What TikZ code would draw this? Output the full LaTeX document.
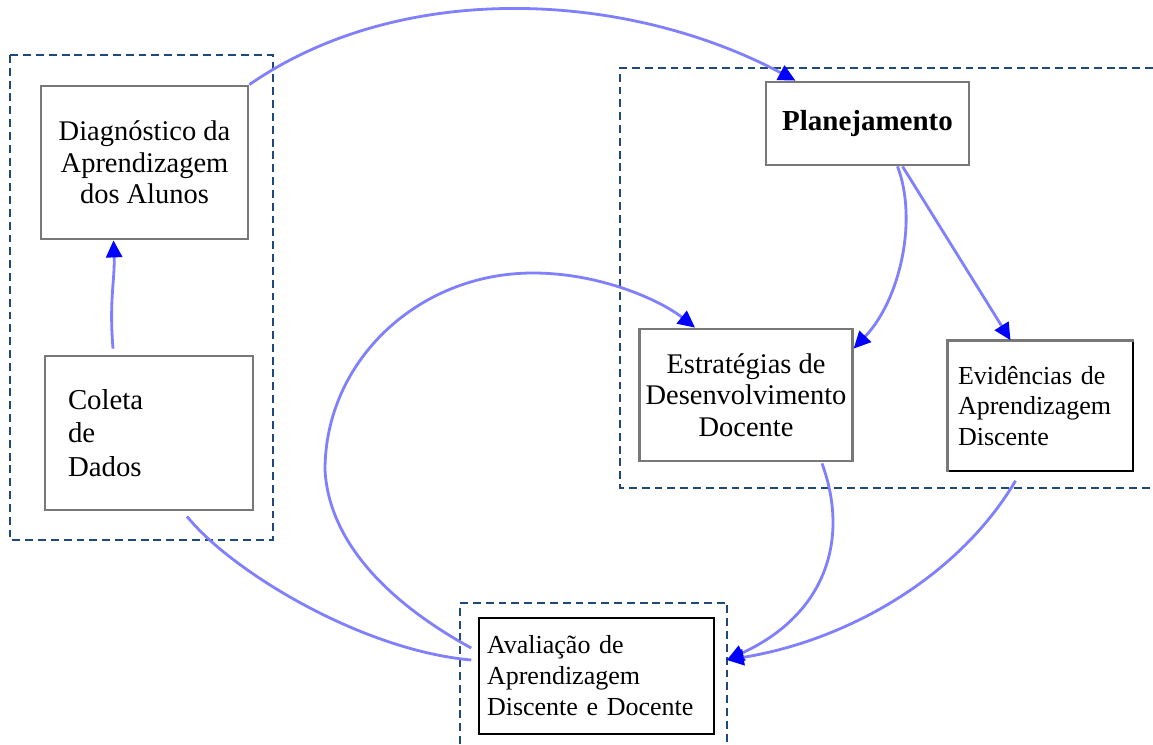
\documentclass[tikz,border=0pt]{standalone}
\usepackage{fontspec}
\setmainfont{Liberation Serif}
\usepackage{tikz}
\usetikzlibrary{arrows.meta,positioning,calc}
\definecolor{frameblue}{RGB}{31,73,125}
\definecolor{linkblue}{RGB}{128,128,255}
\definecolor{boxgray}{RGB}{120,120,120}

\tikzset{
  graybox/.style={draw=boxgray, line width=1.6pt, fill=white, align=center, font=\fontsize{16.2}{18}\selectfont},
  plainbox/.style={draw=black, line width=0.9pt, fill=white, align=left, font=\fontsize{14.8}{17.6}\selectfont},
  frame/.style={draw=frameblue, line width=1.1pt, dash pattern=on 4.5pt off 2.8pt},
  link/.style={draw=linkblue, line width=1.6pt},
  bluehead/.style={-{Triangle[color=blue,length=0.34cm,width=0.32cm]}}
}

\begin{document}
\begin{tikzpicture}[x=0.02cm,y=-0.02cm]
\useasboundingbox (0,0) rectangle (1153,744);

% group frames
\draw[frame] (10,55) rectangle (273,540);
\draw[frame] (1153,68) -- (620,68) -- (620,488) -- (1153,488);
\draw[frame] (460,744) -- (460,603) -- (727,603) -- (727,744);

% boxes
\node[graybox, minimum width=4.14cm, minimum height=3.06cm] (diag) at (144.5,162.5) {Diagnóstico da\\Aprendizagem\\dos Alunos};
\node[graybox, minimum width=4.16cm, minimum height=3.08cm, inner xsep=0.46cm, text width=3.24cm, align=left, font=\fontsize{16.4}{19}\selectfont] (coleta) at (149,433) {Coleta\\de\\Dados};
\node[graybox, minimum width=4.06cm, minimum height=1.66cm, font=\fontsize{16.5}{18}\selectfont\bfseries] (plan) at (867.5,123.5) {Planejamento};
\node[graybox, minimum width=4.24cm, minimum height=2.64cm] (estr) at (746,395) {Estratégias de\\Desenvolvimento\\Docente};
\node[plainbox, minimum width=3.70cm, minimum height=2.60cm, inner xsep=0.2cm, text width=3.30cm] (evid) at (1040.5,406) {Evidências de\\Aprendizagem\\Discente};
\node[plainbox, minimum width=4.70cm, minimum height=2.32cm, inner xsep=0.16cm, text width=4.38cm] (aval) at (596.5,676) {Avaliação de\\Aprendizagem\\Discente e Docente};

% gray edges on evid
\draw[boxgray, line width=1.6pt] (evid.south west) -- (evid.north west) -- (evid.north east);

% loop points
\coordinate (loopleft) at (325,470);
\coordinate (looptop) at (533,273);

% connectors
\draw[link,bluehead] ($(coleta.north)+(-36,-6)$) .. controls (109,300) and (115,280) .. ($(diag.south)+(-31,0)$);
\draw[link,bluehead] (diag.north east) .. controls (400,-20) and (625,-10) .. ($(plan.north)+(-72,0)$);
\draw[link,bluehead] ($(plan.south)+(30,0)$) .. controls (918,220) and (900,300) .. ($(estr.north east)+(0,21)$);
\draw[link,bluehead] ($(plan.south)+(35,0)$) -- ($(evid.north)+(-30,0)$);
\draw[link,bluehead] ($(aval.west)+(-7,-28)$) .. controls (420,620) and (330,560) .. (loopleft)
  .. controls (325,361) and (418,273) .. (looptop)
  .. controls (600,273) and (660,300) .. ($(estr.north)+(-51,0)$);
\draw[link] ($(coleta.south)+(38,5)$) .. controls (230,570) and (360,650) .. ($(aval.west)+(-7,-16)$);
\draw[link,bluehead] ($(estr.south)+(76,1)$) .. controls (850,540) and (825,615) .. ($(aval.east)+(12,-16)$);
\draw[link,bluehead] ($(evid.south)+(-25,9)$) .. controls (960,575) and (850,640) .. ($(aval.east)+(12,-16)$);

\end{tikzpicture}
\end{document}
